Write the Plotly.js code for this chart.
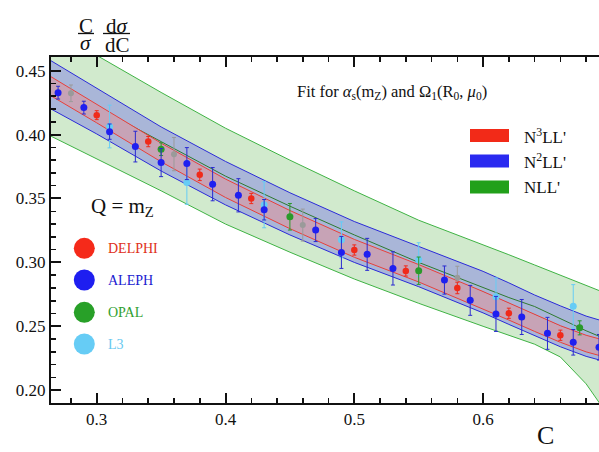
<!DOCTYPE html>
<html>
<head>
<meta charset="utf-8">
<script src="https://cdn.plot.ly/plotly-3.0.1.min.js"></script>
<style>html,body{margin:0;padding:0;background:#fff;}#chart{width:599px;height:452px;}</style>
</head>
<body>
<div id="chart"></div>
<script>
// ---- theory bands (C grid and band edges) ----
const gridC    = [0.26, 0.30, 0.35, 0.40, 0.45, 0.50, 0.55, 0.60, 0.62, 0.64, 0.66, 0.68, 0.70];
const nllUp    = [0.484, 0.462, 0.433, 0.405, 0.380, 0.356, 0.333, 0.314, 0.306, 0.298, 0.290, 0.282, 0.274];
const nllLo    = [0.401, 0.381, 0.356, 0.330, 0.308, 0.287, 0.268, 0.250, 0.243, 0.236, 0.226, 0.205, 0.176];
const nllMid   = [0.4425, 0.4215, 0.3945, 0.3675, 0.344, 0.3215, 0.300, 0.280, 0.2725, 0.2655, 0.256, 0.2465, 0.238];
const n2llUp   = [0.4605, 0.436, 0.406, 0.379, 0.3545, 0.332, 0.3125, 0.293, 0.284, 0.2745, 0.266, 0.258, 0.252];
const n2llLo   = [0.4225, 0.4005, 0.3715, 0.345, 0.3215, 0.300, 0.281, 0.2605, 0.2515, 0.2425, 0.234, 0.2265, 0.221];
const n2llMid  = [0.4415, 0.4183, 0.3888, 0.362, 0.338, 0.316, 0.2968, 0.2768, 0.2678, 0.2585, 0.250, 0.2423, 0.2365];
const n3llUp   = [0.448, 0.4238, 0.3933, 0.3652, 0.3406, 0.318, 0.2983, 0.2772, 0.2681, 0.259, 0.2505, 0.243, 0.2375];
const n3llLo   = [0.433, 0.4092, 0.3787, 0.3508, 0.3264, 0.304, 0.2847, 0.2638, 0.2549, 0.246, 0.2375, 0.230, 0.2245];

// ---- experimental data ----
const delphiC   = [0.30, 0.34, 0.38, 0.42, 0.50, 0.54, 0.58, 0.62, 0.66];
const delphiV   = [0.4152, 0.3945, 0.3685, 0.350, 0.3097, 0.2933, 0.280, 0.2602, 0.2430];
const delphiE   = [0.0035, 0.004, 0.0045, 0.004, 0.004, 0.004, 0.0045, 0.004, 0.004];

const alephC    = [0.27, 0.29, 0.31, 0.33, 0.35, 0.37, 0.39, 0.41, 0.43, 0.47, 0.49, 0.51, 0.53, 0.57, 0.59, 0.61, 0.63, 0.65, 0.67, 0.69];
const alephV    = [0.4328, 0.4211, 0.4023, 0.3906, 0.3781, 0.3773, 0.3612, 0.3525, 0.3412, 0.3253, 0.3078, 0.3063, 0.2953, 0.2862, 0.2703, 0.2597, 0.2573, 0.2445, 0.2375, 0.2336];
const alephE    = [0.005, 0.005, 0.006, 0.012, 0.011, 0.0125, 0.013, 0.013, 0.008, 0.009, 0.0125, 0.0125, 0.013, 0.011, 0.0117, 0.0137, 0.0137, 0.0125, 0.010, 0.010];

const opalC     = [0.35, 0.45, 0.55, 0.675];
const opalV     = [0.3886, 0.3357, 0.2935, 0.2488];
const opalE     = [0.005, 0.0104, 0.0107, 0.0055];

const l3C       = [0.31, 0.37, 0.43, 0.49, 0.55, 0.61, 0.67];
const l3V       = [0.4063, 0.3625, 0.3451, 0.3177, 0.3021, 0.2732, 0.2656];
const l3E       = [0.0167, 0.017, 0.018, 0.014, 0.0133, 0.0146, 0.017];

const otherC    = [0.28, 0.36, 0.46, 0.58];
const otherV    = [0.4323, 0.3847, 0.3292, 0.288];
const otherE    = [0.0065, 0.013, 0.0125, 0.009];

// ---- labels ----
const bandNames = ["N<sup>3</sup>LL'", "N<sup>2</sup>LL'", "NLL'"];
const expNames  = ["DELPHI", "ALEPH", "OPAL", "L3"];
const xTitle = "C";
const fitText = "Fit for <i>α</i><sub>s</sub>(m<sub>Z</sub>) and Ω<sub>1</sub>(R<sub>0</sub>, <i>μ</i><sub>0</sub>)";
const qText = "Q = m<sub>Z</sub>";

// ---- styling ----
const SERIF = "Liberation Serif, Times New Roman, serif";
const L = 51, T = 57, W = 548, H = 346;
const px = x => (x - L) / W;
const py = y => (T + H - y) / H;

function band(lo, up, fillcol, linecol) {
  return [
    {x: gridC, y: lo, type: 'scatter', mode: 'lines', line: {color: linecol, width: 1}, hoverinfo: 'skip', showlegend: false},
    {x: gridC, y: up, type: 'scatter', mode: 'lines', line: {color: linecol, width: 1}, fill: 'tonexty', fillcolor: fillcol, hoverinfo: 'skip', showlegend: false}
  ];
}
function pts(x, y, e, col, ecol, size) {
  return {x: x, y: y, type: 'scatter', mode: 'markers', showlegend: false,
    marker: {color: col, size: size},
    error_y: {type: 'data', array: e, visible: true, color: ecol, thickness: 1, width: 2}};
}

const traces = [].concat(
  band(nllLo, nllUp, '#d1eacd', '#3fb344'),
  band(n2llLo, n2llUp, '#a9b6d8', '#2b2bd8'),
  [{x: gridC, y: nllMid, type: 'scatter', mode: 'lines', line: {color: '#2f7a2f', width: 1}, showlegend: false},
   {x: gridC, y: n2llMid, type: 'scatter', mode: 'lines', line: {color: '#30306e', width: 1}, showlegend: false}],
  band(n3llLo, n3llUp, '#c7a3b6', '#e8403a'),
  [
    pts(otherC, otherV, otherE, '#9a9a9a', '#9a9a9a', 6),
    pts(l3C, l3V, l3E, '#66ccf5', '#66ccf5', 7),
    pts(opalC, opalV, opalE, '#2a9a2a', '#2a9a2a', 7),
    pts(delphiC, delphiV, delphiE, '#f02a1a', '#f02a1a', 6.5),
    pts(alephC, alephV, alephE, '#1f1ff0', '#2a2ad0', 7)
  ]
);

const swatchCols = ['#f22a18', '#2a2af0', '#22a01a'];
const swatchY = [135.5, 161, 187];
const expCols = ['#f52a1a', '#1e1ef0', '#28a028', '#66ccf5'];
const expTextCols = ['#e03020', '#2020d0', '#30a030', '#66c8f0'];
const expY = [248.3, 280, 312.3, 344];

const shapes = [];
const annotations = [];
swatchY.forEach((yc, i) => {
  shapes.push({type: 'rect', xref: 'paper', yref: 'paper', x0: px(470), x1: px(509), y0: py(yc + 6.5), y1: py(yc - 6.5),
    fillcolor: swatchCols[i], line: {width: 0}});
  annotations.push({xref: 'paper', yref: 'paper', x: px(522), y: py(yc), xanchor: 'left', yanchor: 'middle', showarrow: false,
    text: bandNames[i], font: {family: SERIF, size: 17, color: '#111'}});
});
expY.forEach((yc, i) => {
  shapes.push({type: 'circle', xref: 'paper', yref: 'paper', x0: px(84.3 - 10.5), x1: px(84.3 + 10.5), y0: py(yc + 10.5), y1: py(yc - 10.5),
    fillcolor: expCols[i], line: {width: 0}});
  annotations.push({xref: 'paper', yref: 'paper', x: px(106), y: py(yc), xanchor: 'left', yanchor: 'middle', showarrow: false,
    text: expNames[i], font: {family: SERIF, size: 14, color: expTextCols[i]}});
});
// fraction label
shapes.push({type: 'line', xref: 'paper', yref: 'paper', x0: px(78), x1: px(94), y0: py(33.5), y1: py(33.5), line: {color: '#111', width: 1.3}});
shapes.push({type: 'line', xref: 'paper', yref: 'paper', x0: px(103), x1: px(130), y0: py(33.5), y1: py(33.5), line: {color: '#111', width: 1.3}});
const fr = (t, x, y) => ({xref: 'paper', yref: 'paper', x: px(x), y: py(y), xanchor: 'center', yanchor: 'middle', showarrow: false,
  text: t, font: {family: SERIF, size: 21, color: '#111'}});
annotations.push(fr('C', 86, 26), fr('<i>σ</i>', 86, 43), fr('d<i>σ</i>', 117, 26), fr('dC', 117, 45));
annotations.push({xref: 'paper', yref: 'paper', x: px(295), y: py(91.7), xanchor: 'left', yanchor: 'middle', showarrow: false,
  text: fitText, font: {family: SERIF, size: 16.5, color: '#111'}});
annotations.push({xref: 'paper', yref: 'paper', x: px(89), y: py(207), xanchor: 'left', yanchor: 'middle', showarrow: false,
  text: qText, font: {family: SERIF, size: 21, color: '#111'}});
annotations.push({xref: 'paper', yref: 'paper', x: px(545), y: py(435), xanchor: 'center', yanchor: 'middle', showarrow: false,
  text: xTitle, font: {family: SERIF, size: 26, color: '#111'}});

const layout = {
  width: 599, height: 452,
  margin: {l: L, r: 0, t: T, b: 452 - T - H, pad: 0},
  paper_bgcolor: '#fff', plot_bgcolor: '#fff',
  showlegend: false,
  xaxis: {range: [0.2645, 0.690], dtick: 0.1, tick0: 0, tickformat: '.1f',
    showgrid: false, zeroline: false, showline: true, linecolor: '#111', linewidth: 2, mirror: 'ticks',
    ticks: 'inside', ticklen: 10, tickwidth: 2, tickcolor: '#111',
    minor: {dtick: 0.02, ticks: 'inside', ticklen: 5, tickwidth: 1.5, tickcolor: '#111', showgrid: false},
    tickfont: {family: SERIF, size: 17, color: '#111'}},
  yaxis: {range: [0.190, 0.4607], dtick: 0.05, tick0: 0, tickformat: '.2f',
    showgrid: false, zeroline: false, showline: true, linecolor: '#111', linewidth: 2,
    ticks: 'inside', ticklen: 10, tickwidth: 2, tickcolor: '#111',
    minor: {dtick: 0.01, ticks: 'inside', ticklen: 5, tickwidth: 1.5, tickcolor: '#111', showgrid: false},
    tickfont: {family: SERIF, size: 17, color: '#111'}},
  shapes: shapes,
  annotations: annotations
};

Plotly.newPlot('chart', traces, layout, {displayModeBar: false, staticPlot: true});
</script>
</body>
</html>
